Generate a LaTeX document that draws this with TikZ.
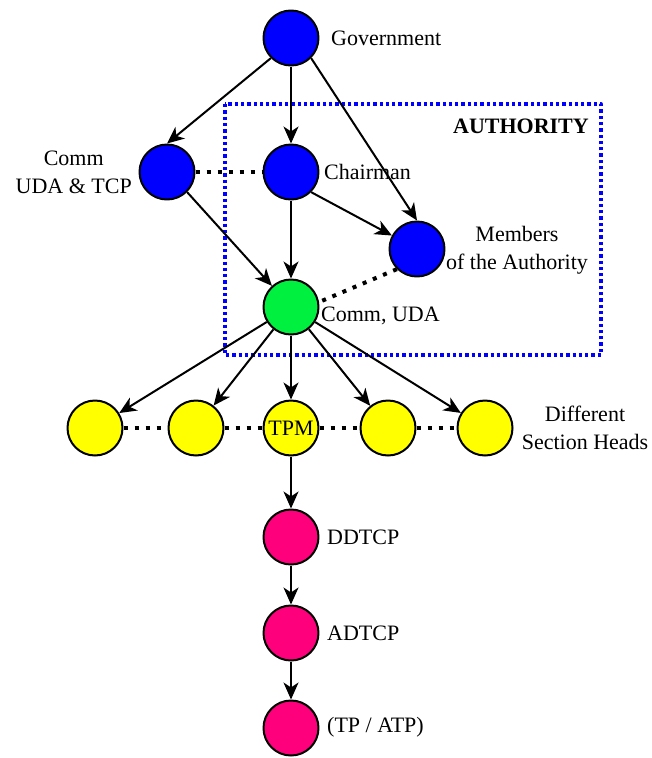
\documentclass[tikz,border=0pt]{standalone}
\usepackage{fontspec}
\setmainfont{Liberation Serif}
\newfontfamily\postfont{Liberation Serif}
\usetikzlibrary{arrows.meta}
\definecolor{postblue}{RGB}{0,0,255}
\definecolor{postgreen}{RGB}{0,240,64}
\definecolor{postyellow}{RGB}{255,255,0}
\definecolor{postpink}{RGB}{255,0,125}

\begin{document}
\begin{tikzpicture}[line join=round,>={Stealth[length=17pt,width=15pt,inset=5pt]},x=1pt,y=-1pt,
	post/.style={circle,draw=black,line width=2pt,minimum size=55pt,inner sep=0pt,font=\postfont\fontsize{22}{26}\selectfont},
	txt/.style={font=\postfont\fontsize{22}{28}\selectfont,inner sep=0pt,align=center},
	link/.style={->,line width=2pt},
	dots/.style={line width=4pt,dash pattern=on 4pt off 7pt}]
	\useasboundingbox (0,0) rectangle (652,758);
	% authority frame
	\draw[postblue,line width=3.3pt,dash pattern=on 3.3pt off 3pt] (225,104) rectangle (601,355);
	\node[txt,font=\postfont\fontsize{22}{28}\selectfont\bfseries,anchor=east] (auth) at (589,126) {AUTHORITY};
	% posts
	\node[post,fill=postblue] (gov) at (291,38) {};
	\node[post,fill=postblue] (tcp) at (167,172) {};
	\node[post,fill=postblue] (chair) at (291,172) {};
	\node[post,fill=postblue] (memb) at (417,249) {};
	\node[post,fill=postgreen] (uda) at (291,307) {};
	\node[post,fill=postyellow] (sec1) at (95,428) {};
	\node[post,fill=postyellow] (sec2) at (196,428) {};
	\node[post,fill=postyellow] (tpm) at (291,428) {TPM};
	\node[post,fill=postyellow] (sec4) at (388,428) {};
	\node[post,fill=postyellow] (sec5) at (485,428) {};
	\node[post,fill=postpink] (ddtcp) at (291,537) {};
	\node[post,fill=postpink] (adtcp) at (291,633) {};
	\node[post,fill=postpink] (tp) at (291,728) {};
	% labels
	\node[txt,anchor=west] (govtxt) at (331,38) {Government};
	\node[txt,anchor=east] (tcptxt) at (132,172) {Comm\\UDA \& TCP};
	\node[txt,anchor=west] (chairtxt) at (324,172) {Chairman};
	\node[txt] (membtxt) at (517,250) {Members\\of the Authority};
	\node[txt,anchor=west] (udatxt) at (321,316) {Comm, UDA};
	\node[txt] (sectxt) at (585,428) {Different\\Section Heads};
	\node[txt,anchor=west] (ddtxt) at (327,537) {DDTCP};
	\node[txt,anchor=west] (adtxt) at (327,633) {ADTCP};
	\node[txt,anchor=west] (tptxt) at (327,727) {(TP / ATP)};
	% arrows
	\draw[link] (gov.south west) -- (tcp.north);
	\draw[link] (gov) -- (chair);
	\draw[link] (gov.south east) -- (memb.north);
	\draw[link] (chair.south east) -- (memb);
	\draw[link] (chair) -- (uda);
	\draw[link] (tcp.south east) -- (uda);
	\draw[link] (uda) -- (sec1);
	\draw[link] (uda) -- (sec2);
	\draw[link] (uda) -- (tpm);
	\draw[link] (uda) -- (sec4);
	\draw[link] (uda) -- (sec5);
	\draw[link] (tpm) -- (ddtcp);
	\draw[link] (ddtcp) -- (adtcp);
	\draw[link] (adtcp) -- (tp);
	% dotted links
	\draw[dots] (tcp) -- (chair);
	\draw[dots] (memb.south west) -- (uda.10);
	\draw[dots] (sec1) -- (sec2);
	\draw[dots] (sec2) -- (tpm);
	\draw[dots] (tpm) -- (sec4);
	\draw[dots] (sec4) -- (sec5);
\end{tikzpicture}
\end{document}
